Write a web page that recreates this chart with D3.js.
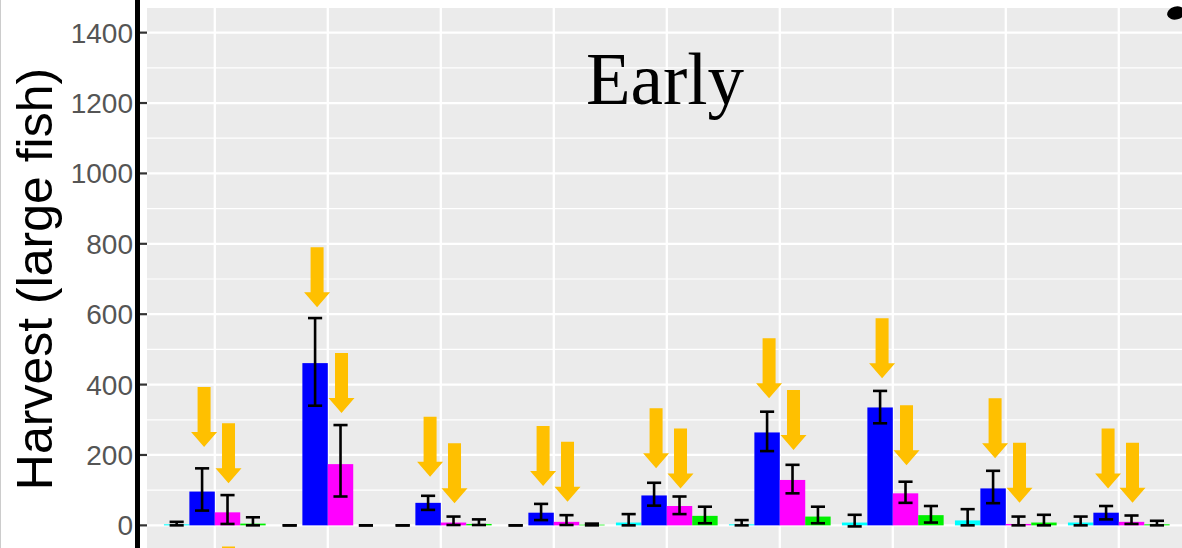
<!DOCTYPE html>
<html><head><meta charset="utf-8">
<script src="https://cdn.jsdelivr.net/npm/d3@7"></script>
<style>body{margin:0;background:#fff}svg{display:block}</style>
</head><body><svg id="c" width="1182" height="548"></svg>
<script>
// ---- data ----
const groups = [1, 2, 3, 4, 5, 6, 7, 8, 9];
const seriesNames = ["cyan", "blue", "magenta", "green"];
const seriesColors = ["#00FFFF", "#0000FF", "#FF00FF", "#00F000"];

const cyanMean = [3, 0, 0, 0, 8, 3, 8, 14, 8];
const cyanLo   = [0, 0, 0, 0, 0, 0, -3, 0, 0];
const cyanHi   = [10, 0, 0, 0, 32, 15, 30, 46, 25];

const blueMean = [96, 461, 64, 36, 85, 264, 335, 105, 36];
const blueLo   = [42, 340, 44, 15, 56, 211, 290, 63, 17];
const blueHi   = [162, 589, 84, 61, 121, 323, 382, 155, 55];

const magentaMean = [37, 174, 8, 10, 55, 129, 91, 4, 10];
const magentaLo   = [4, 82, 1, 1, 32, 91, 64, 0, 4];
const magentaHi   = [86, 285, 25, 29, 82, 172, 124, 25, 28];

const greenMean = [5, 0, 4, 2, 27, 25, 29, 8, 3];
const greenLo   = [0, 0, 1, 0, 6, 6, 8, 0, 0];
const greenHi   = [23, 0, 17, 5, 53, 53, 55, 30, 13];

// arrow tip values (data units) above blue and magenta bars
const blueArrowTip    = [223, 620, 138, 112, 162, 361, 418, 191, 105];
const magentaArrowTip = [120, 319, 63, 67, 105, 214, 171, 64, 64];
// arrow from the panel below, only its shaft top is visible
const strayArrowGroup = [1];
const strayArrowTop = [-60];

const yMajor = [0, 200, 400, 600, 800, 1000, 1200, 1400];
const yMinor = [100, 300, 500, 700, 900, 1100, 1300];
const titleText = "Early";
const yLabel = "Harvest (large fish)";

// ---- layout ----
const svg = d3.select("#c");
const means = [cyanMean, blueMean, magentaMean, greenMean];
const los = [cyanLo, blueLo, magentaLo, greenLo];
const his = [cyanHi, blueHi, magentaHi, greenHi];

const panelLeft = 147, panelTop = 8;
const x = d3.scaleLinear().domain([0.4, 9.6]).range([panelLeft, panelLeft + 9.2 * 113]);
const y = d3.scaleLinear().domain([-70, 1470]).range([550, panelTop]);
const dodge = 0.9, nS = 4, slot = dodge / nS;
const barX = (g, s) => g - dodge / 2 + s * slot;
const barC = (g, s) => g - dodge / 2 + (s + 0.5) * slot;
const errW = 0.5 / nS;

// panel background
svg.append("rect").attr("x", x(0.4)).attr("y", y(1470))
  .attr("width", x(9.6) - x(0.4)).attr("height", y(-70) - y(1470)).attr("fill", "#EBEBEB");

// grid
const grid = svg.append("g");
grid.selectAll(".mn").data(yMinor).join("line")
  .attr("x1", x(0.4)).attr("x2", x(9.6)).attr("y1", d => y(d)).attr("y2", d => y(d))
  .attr("stroke", "#fff").attr("stroke-width", 1.2);
grid.selectAll(".mj").data(yMajor).join("line")
  .attr("x1", x(0.4)).attr("x2", x(9.6)).attr("y1", d => y(d)).attr("y2", d => y(d))
  .attr("stroke", "#fff").attr("stroke-width", 2.3);
grid.selectAll(".vx").data(groups).join("line")
  .attr("x1", d => x(d)).attr("x2", d => x(d)).attr("y1", y(1470)).attr("y2", y(-70))
  .attr("stroke", "#fff").attr("stroke-width", 2.3);

// bars
const barData = [];
groups.forEach((g, gi) => seriesNames.forEach((s, si) => {
  barData.push({g, si, v: means[si][gi], lo: los[si][gi], hi: his[si][gi]});
}));
svg.append("g").selectAll("rect").data(barData).join("rect")
  .attr("x", d => x(barX(d.g, d.si)))
  .attr("width", x(0.4 + slot) - x(0.4))
  .attr("y", d => y(Math.max(0, d.v)))
  .attr("height", d => Math.abs(y(0) - y(d.v)))
  .attr("fill", d => seriesColors[d.si]);

// error bars
const eb = svg.append("g").attr("stroke", "#000").attr("stroke-width", 2.6).attr("fill", "none");
barData.forEach(d => {
  const cx = barC(d.g, d.si);
  eb.append("line").attr("x1", x(cx)).attr("x2", x(cx)).attr("y1", y(d.lo)).attr("y2", y(d.hi));
  eb.append("line").attr("x1", x(cx - errW / 2)).attr("x2", x(cx + errW / 2)).attr("y1", y(d.hi)).attr("y2", y(d.hi));
  eb.append("line").attr("x1", x(cx - errW / 2)).attr("x2", x(cx + errW / 2)).attr("y1", y(d.lo)).attr("y2", y(d.lo));
});

// arrows
const arrowColor = "#FFC000";
const shaftW = 13, headW = 26, headL = 15, arrowL = 60;
function arrowPath(cx, tipY) {
  const top = tipY - arrowL, hs = tipY - headL;
  return `M${cx - shaftW / 2},${top}L${cx + shaftW / 2},${top}L${cx + shaftW / 2},${hs}` +
    `L${cx + headW / 2},${hs}L${cx},${tipY}L${cx - headW / 2},${hs}L${cx - shaftW / 2},${hs}Z`;
}
const arrows = svg.append("g").attr("fill", arrowColor);
groups.forEach((g, gi) => {
  arrows.append("path").attr("d", arrowPath(x(barC(g, 1)) + 2, y(blueArrowTip[gi])));
  arrows.append("path").attr("d", arrowPath(x(barC(g, 2)) + 1, y(magentaArrowTip[gi])));
});
strayArrowGroup.forEach((g, i) => {
  arrows.append("path").attr("d", arrowPath(x(barC(g, 2)) + 1, y(strayArrowTop[i]) + arrowL));
});

// y axis ticks and labels
const ax = svg.append("g");
ax.selectAll("line").data(yMajor).join("line")
  .attr("x1", 140).attr("x2", panelLeft).attr("y1", d => y(d)).attr("y2", d => y(d))
  .attr("stroke", "#333").attr("stroke-width", 2.2);
ax.selectAll("text").data(yMajor).join("text")
  .attr("x", 133).attr("y", d => y(d)).attr("dy", "0.36em")
  .attr("text-anchor", "end").attr("fill", "#555")
  .attr("font-family", "Liberation Sans, Arial, sans-serif").attr("font-size", 28)
  .text(d => d);

// figure border line
svg.append("rect").attr("x", 135).attr("y", 0).attr("width", 5).attr("height", 548).attr("fill", "#000");
svg.append("rect").attr("x", 0).attr("y", 0).attr("width", 1).attr("height", 548).attr("fill", "#ccc");

// y label
svg.append("text").attr("transform", `translate(52,${(y(1470) + y(-70)) / 2}) rotate(-90)`)
  .attr("text-anchor", "middle").attr("fill", "#000")
  .attr("font-family", "Liberation Sans, Arial, sans-serif").attr("font-size", 50)
  .text(yLabel);

// title
svg.append("text").attr("x", 665).attr("y", 104).attr("text-anchor", "middle")
  .attr("font-family", "Liberation Serif, Times New Roman, serif").attr("font-size", 73)
  .attr("fill", "#000").text(titleText);

// cropped fragment at top right
svg.append("ellipse").attr("cx", 1176).attr("cy", 13).attr("rx", 9).attr("ry", 6.5)
  .attr("transform", "rotate(-15,1176,13)").attr("fill", "#000");
</script></body></html>
